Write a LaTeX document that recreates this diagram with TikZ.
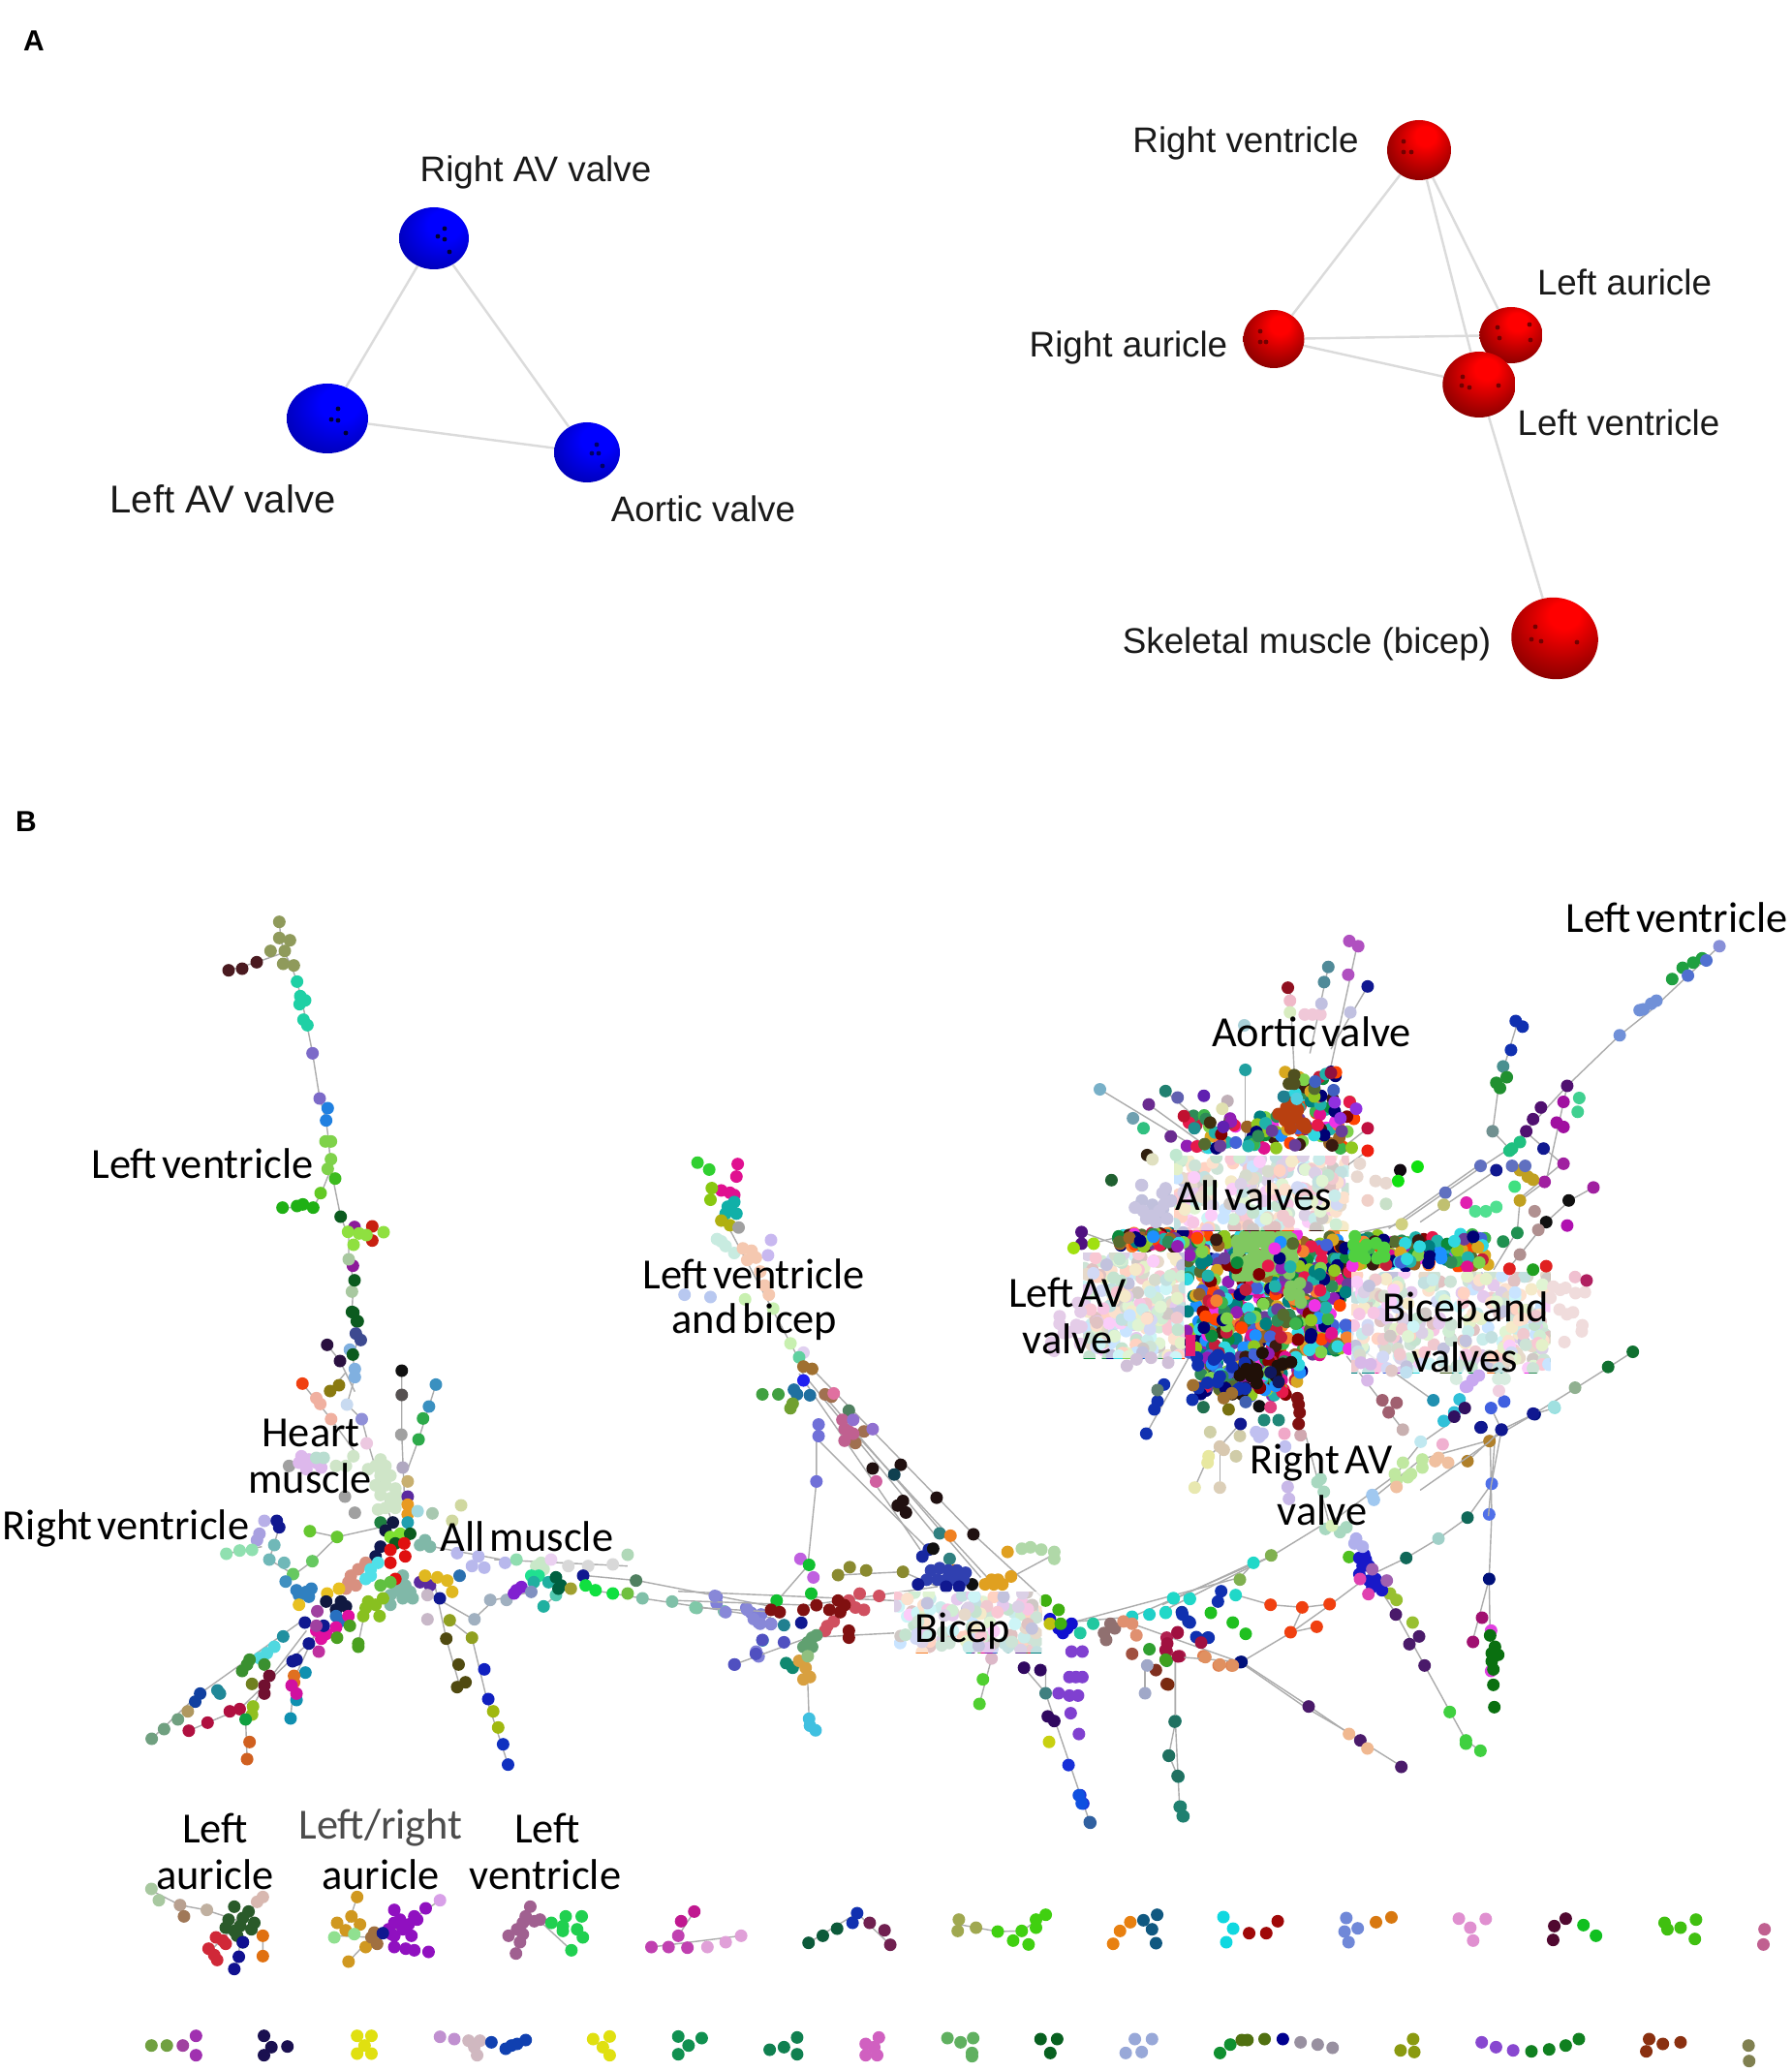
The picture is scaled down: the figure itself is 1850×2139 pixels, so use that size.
\documentclass[tikz,border=0pt]{standalone}
\usepackage{fontspec}
\setmainfont{Liberation Sans}
\newfontfamily\carlitofont[WordSpace=0.5]{Carlito}
\usetikzlibrary{shapes.geometric}
\pgfdeclareradialshading{redball}{\pgfpoint{6bp}{14bp}}{color(0bp)=(red);color(8bp)=(red);color(24bp)=(red!68!black);color(38bp)=(red!42!black);color(50bp)=(red!32!black)}
\pgfdeclareradialshading{blueball}{\pgfpoint{10bp}{14bp}}{color(0bp)=(blue);color(12bp)=(blue);color(32bp)=(blue!72!black);color(50bp)=(blue!50!black)}
\def\hexlist{E6194B,C41E3A,3CB44B,0B8A3A,D8A820,4363D8,F58231,911EB4,30D8E0,F032E6,90C820,008080,9A6324,800000,000075,3A1A10,E0118F,1E90FF,6A3D9A,2E8B57,FF4500,20B2AA,556B2F,7FD24A}
\newcounter{cidx}
\makeatletter
\@for\hx:=\hexlist\do{\definecolor{c\thecidx}{HTML}{\hx}\stepcounter{cidx}}
\makeatother
\definecolor{hubmagenta}{HTML}{E61C72}
\def\dr{6.5}
\newcommand\Dt[2]{\definecolor{tmpc}{HTML}{#1}\foreach \p/\q in {#2}{\fill[tmpc] (\p,\q) ellipse[x radius=\rx,y radius=\ry];}}
\newcommand\Ed[1]{\draw[edgeline] #1;}
\newcommand\Zm[5]{\begin{scope}[shift={(#1,#2)},xscale=1/#3,yscale=1/#4]\pgfmathsetmacro\rx{\dr*#3}\pgfmathsetmacro\ry{\dr*#4}#5\end{scope}}
\newcommand\Rn[5]{\foreach \i in {1,...,#1}{\pgfmathsetmacro\xx{#2+rnd*(#3-#2)}\pgfmathsetmacro\yy{#4+rnd*(#5-#4)}\pgfmathtruncatemacro\cc{int(rnd*23.99)}\fill[c\cc] (\xx,\yy) circle[radius=\dr];}}
\newcommand\RnC[6]{\definecolor{tmpc}{HTML}{#6}\foreach \i in {1,...,#1}{\pgfmathsetmacro\xx{#2+rnd*(#3-#2)}\pgfmathsetmacro\yy{#4+rnd*(#5-#4)}\fill[tmpc] (\xx,\yy) circle[radius=\dr];}}
\newcommand\Pnl[5]{\begin{scope}\clip (#2,#4) rectangle (#3,#5);\Rn{#1}{#2}{#3}{#4}{#5}\fill[white,opacity=.76] (#2,#4) rectangle (#3,#5);\end{scope}}
\newcommand\Spk[4]{\foreach \a/\b in {#4}{\fill[#3] (#1+\a,#2+\b) circle[radius=2.4];}}
\tikzset{
 edgeline/.style={draw=gray!65,line width=0.7pt},
 spherelink/.style={draw=black!14,line width=1.2pt},
 redsphere/.style={ellipse,inner sep=0pt,shading=redball},
 bluesphere/.style={ellipse,inner sep=0pt,shading=blueball},
 lbla/.style={font=\fontsize{18.4}{21}\selectfont,inner sep=0pt,text=black!90},
 lblb/.style={font=\carlitofont\fontsize{22.2}{25}\selectfont,inner sep=0pt,text=black},
 panel/.style={font=\bfseries\fontsize{15}{18}\selectfont,inner sep=0pt}
}
\begin{document}
\begin{tikzpicture}[x=0.5pt,y=-0.5pt]
\pgfmathsetseed{4711}
\useasboundingbox (0,0) rectangle (1850,2139);
\fill[white] (0,0) rectangle (1850,2139);
% ---------- panel A
\node[panel] (pa) at (35,42) {A};
\node[panel] (pb) at (27,848) {B};
\node[bluesphere,minimum width=36pt,minimum height=32pt] (rav) at (448,246) {};
\node[bluesphere,minimum width=42pt,minimum height=36pt] (lav) at (338,432) {};
\node[bluesphere,minimum width=34pt,minimum height=31pt] (aov) at (606,467) {};
\draw[spherelink] (rav) -- (lav); \draw[spherelink] (rav) -- (aov); \draw[spherelink] (lav) -- (aov);
\Spk{448}{246}{black!80!blue}{11/-10,4/-2,11/1,16/14}
\Spk{338}{432}{black!80!blue}{11/-10,4/1,11/2,19/15}
\Spk{606}{467}{black!60!blue}{10/-8,5/1,12/1,16/14}
\node[redsphere,minimum width=33pt,minimum height=31pt] (rv) at (1465,155) {};
\node[redsphere,minimum width=31.5pt,minimum height=30pt] (ra) at (1315,350) {};
\node[redsphere,minimum width=32.6pt,minimum height=29pt] (la) at (1560,346) {};
\node[redsphere,minimum width=45pt,minimum height=42pt,rotate=-15] (sk) at (1605,659) {};
\draw[spherelink] (rv) -- (ra); \draw[spherelink] (rv) -- (la); \draw[spherelink] (ra) -- (la); \draw[spherelink] (la) -- (1527,397);
\node[redsphere,minimum width=37.7pt,minimum height=34pt] (lv) at (1527,397) {};
\draw[spherelink] (rv) -- (lv); \draw[spherelink] (ra) -- (lv); \draw[spherelink] (lv) -- (sk);
\Spk{1465}{155}{red!45!black}{-16/-9,-16/2,-8/2}
\Spk{1315}{350}{red!45!black}{-14/-8,-14/3,-8/3}
\Spk{1560}{346}{red!45!black}{-14/-8,-12/3,19/-11,20/5}
\Spk{1527}{397}{red!45!black}{-17/-8,-18/1,-10/3,20/1}
\Spk{1605}{659}{red!45!black}{-20/-12,-24/1,-14/3,23/4}
\node[lbla] (t1) at (553,178) {Right AV valve};
\node[lbla,font=\fontsize{20}{23}\selectfont] (t2) at (230,515) {Left AV valve};
\node[lbla] (t3) at (726,525) {Aortic valve};
\node[lbla] (t4) at (1286,148) {Right ventricle};
\node[lbla] (t5) at (1677,291) {Left auricle};
\node[lbla] (t6) at (1165,359) {Right auricle};
\node[lbla] (t7) at (1671,436) {Left ventricle};
\node[lbla] (t8) at (1349,665) {Skeletal muscle (bicep)};
% ---------- top-left chain
\Zm{130}{930}{3}{3}{
\Ed{(475,65)--(480,120)--(490,160)--(510,195)--(530,250)--(545,310)--(560,380)--(578,472)--(600,610)--(620,680)--(628,745)--(635,830)--(665,978)--(690,1040)--(690,1110)--(705,1175)--(700,1275)--(715,1300)--(710,1345)}
\Ed{(320,215)--(405,190)--(490,160)}
\Ed{(485,950)--(580,950)--(605,905)--(635,830)}
\Dt{8F9A5B}{475/65,475/115,508/122,448/155,492/155,487/195,520/200}
\Dt{4A1A20}{318/215,360/210,405/190}
\Dt{1FD0A5}{530/250,540/295,555/308,538/320,550/368,562/385}
\Dt{7C6AC8}{578/472,600/612}
\Dt{2080E0}{625/642,620/680}
\Dt{7FD24A}{618/745,635/745,635/800,625/830}
\Dt{3DBB1F}{648/860}
\Dt{62C924}{603/905}
\Dt{1FB014}{485/950,530/945,548/940,580/950}
\Dt{0B5B1E}{665/978}
\Dt{8C1A9A}{708/1010,703/1130}
\Dt{C82010}{763/1008,763/1052}
\Dt{8FE040}{688/1025,722/1030,745/1035,798/1026,705/1065}
\Dt{A8C8A0}{690/1110,700/1210}
\Dt{0B5B1E}{708/1175,700/1273,718/1302}
}
% ---------- left hub
\Zm{0}{1350}{1.96}{3}{
\Ed{(715,15)--(725,100)--(714,145)--(718,215)--(702,300)--(732,345)--(745,420)--(790,650)}
\Ed{(612,235)--(670,345)--(720,450)}\Ed{(662,115)--(688,165)--(718,260)}\Ed{(668,258)--(700,200)}
\Ed{(813,195)--(813,393)--(820,650)}\Ed{(882,238)--(847,408)--(825,500)}
\Ed{(627,692)--(682,710)--(770,680)}\Ed{(565,680)--(545,780)--(593,825)}\Ed{(458,762)--(530,740)}
\Ed{(682,710)--(632,785)--(577,848)}
\Ed{(307,1335)--(400,1200)--(620,960)}\Ed{(382,1310)--(485,1243)--(650,1000)}\Ed{(500,1398)--(497,1275)--(535,1170)--(620,1000)}\Ed{(588,1272)--(595,1150)--(640,1000)}\Ed{(725,1040)--(740,930)}
\Ed{(910,968)--(955,1022)--(985,1212)--(1028,1415)}\Ed{(880,860)--(903,1025)--(930,1170)}\Ed{(860,880)--(958,965)--(1000,905)--(1075,880)}
\Ed{(1187,830)--(1290,845)--(1560,925)}\Ed{(1180,870)--(1300,900)--(1560,960)}\Ed{(1100,925)--(1125,890)}\Ed{(840,730)--(1050,790)}\Ed{(1000,780)--(1270,800)}
\Dt{0B5B1E}{715/15,722/42}
\Dt{3D4A90}{720/80,730/100}
\Dt{2A1040}{662/115,688/165}
\Dt{80B0E0}{708/130,718/190,718/215}
\Dt{0B5B1E}{714/145}
\Dt{C8DAF0}{702/300}
\Dt{F04010}{612/235}
\Dt{8A7A10}{668/258,686/240}
\Dt{F0B0A0}{640/280,648/298,670/345}
\Dt{101010}{813/195}
\Dt{555050}{813/270}
\Dt{3A90C0}{882/238,868/306}
\Dt{2DAA4A}{856/343,847/408}
\Dt{A0A0A0}{812/393,585/490,698/585,718/635}
\Dt{9090D8}{732/345}
\Dt{ECC8E0}{742/420}
\Dt{DDB8EC}{610/460,625/470,605/480,640/480,620/500,650/495}
\Dt{B9DDD0}{655/465,640/465}
\Dt{CFE5C8}{770/470,780/490,760/490,715/460,745/500,790/520,770/520,760/550,780/550,800/560,770/580,790/590,810/590,780/620,800/620,765/625,680/490,700/490}
\Dt{C8B070}{825/538}
\Dt{B0A8C0}{815/495}
\Dt{5A2AA0}{825/585}
\Dt{E89A20}{825/610,825/640}
\Dt{A0D8E0}{845/630}
\Dt{A8C8B0}{875/637}
\Dt{D0D8A0}{933/612,915/660}
\Dt{B8B0E8}{535/660}
\Dt{101890}{565/680,560/660}
\Dt{A8A0E0}{525/700,520/720}
\Dt{70B8B8}{555/735,545/780,575/790}
\Dt{90E0B0}{458/762,485/752,510/750}
\Dt{66C830}{627/692,682/710}
\Dt{66C860}{632/785,593/825}
\Dt{4090C0}{578/848}
\Dt{80B8A8}{815/830,800/860,820/860,830/880,810/880,790/890,815/900,835/900,825/885,790/920,850/735,860/720,870/740}
\Dt{1E8040}{770/665}\Dt{101840}{795/665}\Dt{20A0B0}{825/665}\Dt{101840}{780/690}
\Dt{7CE030}{790/710,810/700}
\Dt{0B5B1E}{830/700,800/730}
\Dt{101850}{770/740,760/770}
\Dt{E01010}{818/730,820/770,790/750,790/790,800/840}
\Dt{D89080}{740/790,725/810,710/830,705/850,720/860,700/870}
\Dt{50E0E8}{750/810,765/790,740/840,750/830}
\Dt{60C040}{770/860,790/850}
\Dt{5A2AA0}{850/850,870/860}
\Dt{E0B820}{860/830,885/835,905/845,915/880}
\Dt{101890}{890/900}
\Dt{2A70B0}{930/830}
\Dt{C8B8C8}{865/890,865/965}
\Dt{3080C0}{600/875,620/880,630/870,605/890,625/895}
\Dt{E8C020}{605/920,662/885,686/870}
\Dt{101840}{660/910,690/910,680/935,700/925}
\Dt{2870C0}{680/955,690/970}
\Dt{88C020}{740/930,760/920,735/955,768/955,745/910,775/900}
\Dt{E010A0}{705/955,680/990,660/1010,640/1000,650/1025}
\Dt{101890}{617/975,655/985,625/1040,600/1090,592/1095}
\Dt{A040A0}{642/940,640/985}
\Dt{4AA020}{725/1040,725/1050,708/985,682/1022}
\Dt{2090A0}{573/1018}
\Dt{50D8E0}{555/1050,540/1070,525/1085}
\Dt{C030A0}{645/1065}
\Dt{3A9030}{505/1090,500/1105,490/1125,535/1105}
\Dt{701030}{545/1140,535/1170,535/1195}
\Dt{708020}{510/1165}
\Dt{1090B0}{618/1130,600/1215,588/1272}
\Dt{E07020}{595/1140,595/1160}
\Dt{D010A0}{590/1170,600/1195}
\Dt{208898}{440/1185,445/1195}
\Dt{1040A0}{405/1195,395/1220}
\Dt{B09860}{380/1250}
\Dt{70A080}{360/1275,332/1305,307/1335}
\Dt{B01040}{382/1310,420/1285,465/1250,485/1243}
\Dt{90C020}{512/1235,510/1260}
\Dt{10A040}{497/1275}
\Dt{D06020}{505/1345,500/1398}
\Dt{90A020}{910/968,955/1022}
\Dt{504A10}{903/1025,928/1105,925/1175,942/1160}
\Dt{1020C0}{980/1120,988/1212}
\Dt{A0B810}{998/1250,1008/1300}
\Dt{1030C0}{1018/1352,1028/1415}
\Dt{A0B0C0}{960/965,992/905,1025/905}
\Dt{B8B8EC}{925/760,968/770,955/800,980/805,1022/790}
\Dt{90DDB0}{1045/780}
\Dt{C8E8C8}{1095/790,1085/800,1100/810}
\Dt{EAD0F0}{1115/780}
\Dt{D8D8D8}{1150/800,1190/800,1240/795}
\Dt{B0D8B8}{1270/765}
\Dt{20E090}{1075/830,1090/830}
\Dt{20B0A0}{1080/850,1110/850,1100/925}
\Dt{50C8B0}{1125/890}
\Dt{006040}{1125/835,1135/860,1130/870}
\Dt{8020D0}{1045/875,1040/885,1055/865}
\Dt{8090C0}{1075/880}
\Dt{A0A030}{1155/870}
\Dt{101890}{1180/830}
\Dt{10E040}{1185/860,1205/875,1240/885}
\Dt{70C040}{1270/885}
\Dt{508060}{1287/845}
\Dt{80C0A8}{1300/900,1360/910,1410/930,1465/940}
\Dt{8080D8}{1450/895,1450/915,1510/930,1520/945,1535/975,1560/980,1540/950,1487/1105,1530/1065,1535/1080}
\Dt{2090B0}{1543/1030}
}
% ---------- middle band
\Zm{700}{1150}{2.24}{2.09}{
\Ed{(280,550)--(600,915)}\Ed{(280,560)--(560,940)}\Ed{(310,550)--(683,907)--(850,1050)}\Ed{(340,610)--(700,1000)}\Ed{(400,680)--(720,1005)}\Ed{(320,670)--(320,793)--(300,975)--(230,1050)}\Ed{(320,700)--(590,950)}
\Ed{(120,250)--(280,530)}
\Ed{(0,1030)--(500,1050)}\Ed{(0,1050)--(300,1060)--(600,1020)}\Ed{(40,1065)--(230,1075)}\Ed{(370,995)--(520,988)--(600,1020)}\Ed{(300,1230)--(303,1305)}\Ed{(130,1188)--(300,1130)--(500,1120)}
\Ed{(860,1100)--(1050,1085)--(1370,955)}\Ed{(900,1100)--(1300,1000)--(1330,970)}\Ed{(1050,1100)--(1300,1183)--(1450,1280)--(1560,1340)}\Ed{(850,1190)--(850,1250)--(937,1488)--(952,1528)}\Ed{(1150,1170)--(1150,1310)--(1160,1500)}\Ed{(1080,1190)--(1080,1250)}\Ed{(697,1273)--(725,1175)}\Ed{(800,1195)--(860,1260)}\Ed{(770,1000)--(870,950)}
\Dt{30D030}{45/105,72/120}
\Dt{E01090}{138/108,135/135,100/165,120/170,130/175}
\Dt{88C810}{78/160,75/185}
\Dt{10B0A8}{130/190,115/200,135/215,110/215}
\Dt{B0B010}{100/230,120/240}
\Dt{A0A0A0}{140/245}
\Dt{C8EBE0}{90/270,110/285,130/300,100/275}
\Dt{F5C8B0}{150/290,170/295,180/310,160/315,190/340,200/370,210/390}
\Dt{C8B8F0}{215/272,208/305}
\Dt{B8C8F0}{75/395,15/390}
\Dt{C8F0B0}{155/400,220/420,260/495}
\Dt{E0D0F0}{290/515}
\Dt{60D0A0}{280/525}
\Dt{A07030}{290/545,310/550}
\Dt{2020F0}{290/575}
\Dt{2070A0}{268/595,305/607,275/605}
\Dt{40A040}{195/605,232/605}
\Dt{70A030}{265/625,260/635}
\Dt{A07050}{340/605,355/610,430/685,410/710}
\Dt{E070A0}{360/603}
\Dt{508060}{395/640}
\Dt{7070D8}{325/670,325/695,320/793}
\Dt{C06090}{380/660,385/680,395/685,385/705,405/690}
\Dt{9070D0}{405/660,450/680}
\Dt{201010}{450/765,515/757,598/828,683/907,520/835,508/845,527/860}
\Dt{104050}{500/778}
\Dt{D060A0}{458/793}
\Dt{308080}{605/905,628/960}
\Dt{F08020}{630/910,640/985}
\Dt{1828A0}{565/955,580/940}
\Dt{101010}{590/938,680/1015}
\Dt{3040B0}{585/985,605/980,625/985,645/985,665/990,575/1005,600/1005,620/1005,640/1005,660/1005}
\Dt{101890}{555/1015,620/1020,650/1020}
\Dt{E0A020}{710/1015,730/1015,750/1015,770/998,725/1005,740/1005,762/945}
\Dt{B0D8A8}{795/938,815/935,840/940,870/945,870/960}
\Dt{C060E0}{283/960,313/1000}
\Dt{10C030}{303/973,308/1035,228/1050}
\Dt{8A8A30}{370/995,397/978,435/985,520/988}
\Dt{8888D8}{85/1040,110/1075,160/1070,175/1090,190/1100,215/1100}
\Dt{80C8A8}{40/1065}
\Dt{D05060}{395/1050,420/1035,410/1065,430/1070,345/1105,360/1095,340/1115,465/1040}
\Dt{801010}{235/1075,215/1070,290/1070,320/1060,395/1130,395/1115,370/1050,385/1060,375/1075,350/1070}
\Dt{208090}{245/1103}
\Dt{101890}{285/1098}
\Dt{5050C0}{195/1135,180/1165,130/1188,245/1140}
\Dt{60A070}{300/1140,310/1130,290/1150,310/1150,320/1125}
\Dt{108870}{250/1185,265/1195}
\Dt{D8A040}{280/1180,295/1195,290/1220,305/1215}
\Dt{90C080}{300/1170}
\Dt{40C0E0}{303/1305,318/1330,305/1320}
\Dt{1010D0}{860/1090,880/1110,900/1110,910/1100,890/1120}
\Dt{C0C010}{860/1100}
\Dt{40B010}{880/1070,885/1100,850/1050}
\Dt{20C8A0}{930/1120,960/1100}
\Dt{907070}{985/1120,1000/1100,1010/1110,990/1135}
\Dt{8040D0}{910/1160,935/1160,920/1215,935/1215,905/1215,880/1250,905/1255,925/1255,908/1293,927/1338}
\Dt{300860}{800/1195,838/1200,855/1300,870/1310}
\Dt{408080}{850/1250}
\Dt{C8D010}{858/1355}
\Dt{1830D8}{903/1405,930/1470,937/1488}
\Dt{3060A0}{952/1528}
\Dt{50D030}{705/1220,697/1273}
\Dt{DCB8C8}{725/1175}
\Dt{208070}{1150/1310,1135/1385,1157/1430,1160/1495,1167/1515}
\Dt{20D0C8}{1050/1085,1090/1080,1128/1075,1145/1045,1183/1045}
\Dt{E09070}{1050/1100,1030/1095,1060/1125}
\Dt{A05040}{1050/1165}
\Dt{B02050}{1130/1130,1155/1120,1160/1170,1130/1160}
\Dt{30A030}{1090/1155,1130/1180}
\Dt{1030A0}{1165/1075,1180/1095,1210/1135,1225/1130}
\Dt{803020}{1105/1200,1130/1230}
\Dt{A0A8C8}{1080/1250,1085/1190}
\Dt{E08050}{1215/1170,1250/1190,1280/1190}
\Dt{101890}{1300/1183}
}
% ---------- right lower band
\Zm{1200}{1450}{3}{3}{
\Ed{(245,797)--(400,705)--(520,620)--(640,530)--(755,475)--(855,415)--(945,350)--(1020,245)--(1030,100)--(1150,30)--(1215,10)}
\Ed{(1015,110)--(1020,340)--(1012,540)--(1015,720)}\Ed{(1012,540)--(960,735)}
\Ed{(245,797)--(455,935)--(580,1020)--(740,1120)}
\Ed{(600,460)--(725,650)--(940,1040)--(985,1072)}
\Ed{(0,640)--(340,468)--(500,370)}\Ed{(0,620)--(280,490)}
\Ed{(230,590)--(335,620)--(435,628)--(520,618)}
\Ed{(30,780)--(245,797)}\Ed{(40,800)--(40,985)--(20,1085)--(47,1150)}
\Ed{(400,705)--(435,628)}\Ed{(400,705)--(478,688)}
\Ed{(500,380)--(720,220)--(800,120)--(900,50)}\Ed{(640,300)--(800,170)--(1015,110)}\Ed{(945,175)--(1015,110)}
\Ed{(440,80)--(520,380)}\Ed{(100,257)--(143,160)--(178,130)--(240,60)}\Ed{(178,257)--(178,130)}
\Dt{00107A}{1012/540,1153/30,988/70,1050/78,245/797}
\Dt{5070E8}{1020/245,1012/340}
\Dt{106858}{945/350,755/475}
\Dt{A0D0C8}{855/415}
\Dt{B0802A}{1013/113,945/175}
\Dt{90E0E0}{1215/10}
\Dt{A01070}{990/660,962/735}
\Dt{E040E0}{1018/700,1018/825}
\Dt{0A7010}{1015/715,1030/750,1040/775,1020/795,1025/820,1025/868,1028/937,1020/770}
\Dt{4A1A6A}{723/650,765/742,795/718,812/808,453/935,613/1040,740/1122}
\Dt{F0B890}{578/1020,635/1065}
\Dt{40D040}{890/952,940/1040,985/1072,940/1050}
\Dt{98C030}{705/585,725/605,775/675}
\Dt{50C020}{578/472}
\Dt{1818C8}{610/475,630/480,620/500,640/500,640/545,660/540,650/565,680/575,610/525,670/560,625/465}
\Dt{E040B0}{612/540,638/587}
\Dt{A060B0}{650/510,695/545}
\Dt{B0B0EC}{595/430,620/440,600/415}
\Dt{A8D8C0}{480/240,500/270,490/230,550/395,570/380,505/385}
\Dt{D8F0B8}{525/375}
\Dt{C0E8A0}{745/180,720/215,760/225,725/235,770/215,805/170,805/195}
\Dt{F0C0A0}{725/255,855/165,845/175,885/180}
\Dt{F0B0D0}{868/123}
\Dt{A0C8F0}{650/280,655/295}
\Dt{C0E8F0}{800/115}
\Dt{E8E8B0}{100/257}\Dt{DCCFB8}{178/257}
\Dt{E8E8A0}{143/160,140/180}
\Dt{D0D0A8}{148/85}
\Dt{D8C8B0}{178/130,190/140}
\Dt{D0CCA8}{228/160,240/97}
\Dt{C0C0F0}{290/85,310/90,300/100,380/130}
\Dt{F0A8C8}{378/90}
\Dt{C8B8E8}{388/255,392/292}
\Dt{D0A8B0}{428/95}
\Dt{20D8C8}{282/490,227/590,85/602,35/600,10/645}
\Dt{80B050}{337/467,240/542}
\Dt{1030B0}{182/578,172/610,62/650,85/675,105/720,143/722}
\Dt{20C020}{150/645,218/675,258/710}
\Dt{F04010}{335/620,433/628,518/618,397/705,478/688}
\Dt{A01040}{47/705,15/740,120/737,10/760,48/780}
\Dt{40A020}{10/790}
\Dt{E09060}{133/782,178/805,218/808}
\Dt{7A2A10}{18/867}
\Dt{207060}{38/982,20/1087,47/1150}
}
% ---------- edges of the right-hand fan and branches
\Zm{1000}{900}{1.845}{2.24}{
\Ed{(1430,172)--(1300,320)--(1240,378)--(1140,495)--(1030,640)--(980,680)--(820,815)--(740,835)}
\Ed{(1045,350)--(1030,410)--(1010,490)--(998,600)--(1030,640)}
\Ed{(1140,495)--(1100,715)--(1050,760)--(1045,830)--(1000,920)}
\Ed{(1190,730)--(1145,760)--(1100,810)--(1050,885)--(1030,915)}
\Ed{(1130,675)--(1050,755)}\Ed{(970,680)--(800,825)}\Ed{(1005,690)--(860,810)}\Ed{(1060,600)--(1130,675)}
\Ed{(1265,1110)--(1220,1145)--(1155,1195)--(1075,1255)--(1015,1290)--(990,1320)--(860,1430)}
\Ed{(1015,1290)--(995,1420)--(990,1490)}\Ed{(995,1240)--(1015,1290)}
\Ed{(250,503)--(450,650)}\Ed{(343,538)--(470,650)}\Ed{(527,458)--(527,640)}\Ed{(740,170)--(690,450)}\Ed{(760,265)--(690,410)}\Ed{(612,268)--(620,460)}\Ed{(685,220)--(650,420)}
\Ed{(375,507)--(500,640)}\Ed{(760,593)--(700,650)}\Ed{(760,645)--(720,680)}
\Ed{(215,833)--(300,870)}\Ed{(200,870)--(300,840)}
\Ed{(338,1300)--(430,1100)}\Ed{(827,1290)--(720,1120)}\Ed{(885,1222)--(720,1080)}
}
% ---------- random fills
\Rn{46}{1225}{1325}{1150}{1186}
\Rn{60}{1325}{1398}{1130}{1186}
\Rn{24}{1325}{1380}{1105}{1135}
\RnC{10}{1325}{1350}{1130}{1165}{B84010}
\Rn{470}{1225}{1393}{1272}{1400}
\RnC{70}{1275}{1335}{1272}{1318}{80C860}
\RnC{8}{1325}{1345}{1320}{1345}{80C860}
\Rn{10}{1270}{1340}{1280}{1318}
\Rn{110}{1238}{1345}{1396}{1442}
\RnC{14}{1262}{1340}{1400}{1440}{201008}
\RnC{14}{1232}{1290}{1395}{1440}{1030B0}
\Rn{80}{1153}{1223}{1272}{1287}
\Rn{120}{1395}{1540}{1274}{1308}
\RnC{18}{1395}{1430}{1276}{1300}{50D040}
\fill[hubmagenta] (1224,1378) rectangle (1234,1400);
% ---------- translucent panels behind the labels
\Pnl{220}{1212}{1392}{1193}{1270}
\Pnl{230}{1118}{1223}{1293}{1402}
\Pnl{300}{1395}{1600}{1313}{1417}
\Pnl{130}{923}{1075}{1643}{1706}
\RnC{12}{1085}{1118}{1345}{1400}{E4CCE8}
\RnC{12}{1600}{1640}{1320}{1400}{F0DCDC}
% ---------- remaining dots of the fan and branches (above the panels)
\Zm{1000}{900}{1.845}{2.24}{
\Dt{B050C0}{725/160,742/172,723/238}
\Dt{508A98}{685/220,677/255}
\Dt{101890}{760/265}
\Dt{901020}{608/268}
\Dt{F0B8C8}{612/298}
\Dt{D8ECC0}{612/325}
\Dt{F0C8D8}{655/330,640/330,670/330}
\Dt{C0C0E0}{727/325,672/305}
\Dt{A8D0D8}{525/355}
\Dt{20A0A0}{527/458}
\Dt{505020}{620/470,610/490,620/490}
\Dt{B84010}{605/545,605/565,620/570,590/560}
\Dt{208090}{600/520}
\Dt{50D0E0}{625/525}
\Dt{78B0C8}{250/503}
\Dt{70A0B0}{313/570}
\Dt{30C080}{333/593}
\Dt{6A2A90}{343/538,385/612}
\Dt{208070}{375/507}
\Dt{6060B0}{398/522}
\Dt{6020B0}{448/518,485/590}
\Dt{C0B0B8}{493/530}
\Dt{E0E0B0}{483/548}
\Dt{C01030}{410/565}
\Dt{208F8F}{430/593}
\Dt{403010}{460/580}
\Dt{9030E0}{738/548,697/533,708/570}
\Dt{C01040}{760/593}
\Dt{F02010}{760/645}
\Dt{901040}{690/465}
\Dt{4060C0}{660/485,695/505}
\Dt{206030}{272/713}
\Dt{302010}{340/655}
\Dt{E0E0C0}{350/665}
\Dt{C0E8D0}{395/655}
\Dt{C0C0DC}{330/725,375/735,320/775,345/790,370/780,385/760,355/805,330/760,350/770,375/800}
\Dt{501080}{215/833,215/860}
\Dt{A0E010}{200/870,238/860}
\Dt{100810}{822/690}
\Dt{10E010}{855/682,818/715}
\Dt{E8D8D0}{740/705,775/715,795/720,745/675}
\Dt{F0D0C8}{760/760}
\Dt{C8E0C8}{795/768}
\Dt{8890D8}{1430/172}
\Dt{1FA040}{1340/248,1360/222,1380/210,1397/200}
\Dt{5070D0}{1370/240,1405/205}
\Dt{7090D8}{1285/318,1300/305,1278/320,1310/298,1240/378}
\Dt{1030B0}{1042/345,1055/358,1033/412}
\Dt{4A9090}{1018/450}
\Dt{209030}{1005/488,1025/475,1012/500}
\Dt{709090}{998/600}
\Dt{501070}{1140/495,1090/545,1075/572,1062/600}
\Dt{A010A0}{1133/532,1120/580,1133/590}
\Dt{40D090}{1163/523,1160/555}
\Dt{20C080}{1050/625,1035/640,1030/645}
\Dt{101890}{1095/640,1005/690}
\Dt{A020A0}{1133/675,1097/717,1190/730}
\Dt{C0A020}{1050/690,1065/705,1075/712,1050/760}
\Dt{6070C0}{975/680,1035/680,1060/680,908/742}
\Dt{40E080}{1040/728}
\Dt{C0C070}{905/770}
\Dt{D0D080}{825/815}
\Dt{E020B0}{948/765}
\Dt{50E090}{965/785,985/785,1005/775}
\Dt{101010}{1143/760,1100/810}
\Dt{B09090}{1078/785,1085/828,1050/885}
\Dt{209050}{1045/835,1018/855}
\Dt{B010B0}{1140/818}
\Dt{E02020}{1100/912,1030/918}
\Dt{20A020}{1075/920}
\Dt{F0C0D0}{1155/937}
\Dt{B02060}{1177/945}
\Dt{A06070}{788/1222,815/1228,800/1250}
\Dt{C8B0B0}{827/1290}
\Dt{2090B0}{885/1222}
\Dt{C8A8F0}{960/1175,950/1190}
\Dt{30C0D8}{935/1220,925/1250,905/1270}
\Dt{301060}{945/1240,925/1260}
\Dt{4060E0}{995/1240,1020/1225}
\Dt{101890}{975/1285,1015/1290,1075/1253}
\Dt{A0E0E0}{1115/1237}
\Dt{90B090}{1155/1193}
\Dt{107030}{1218/1145,1265/1110}
\Dt{F0D0E0}{1010/1200}
}
\Zm{1130}{1130}{3}{3}{
\Dt{201008}{470/850,520/800,450/870,500/850}
\Dt{101860}{545/860,570/890}
\Dt{1030B0}{320/838,215/898,195/950,185/975,160/1050,303/945}
\Dt{608070}{195/915}
\Dt{207050}{337/968}
\Dt{A07030}{305/900,400/940,425/925}
\Dt{787010}{415/975}
\Dt{4060B0}{468/952}
\Dt{101010}{510/965}
\Dt{E04080}{545/968}
\Dt{208878}{570/1008,525/1008}
\Dt{101890}{452/1020}
\Dt{801010}{628/940,632/960,635/985,632/1020}
\Dt{C8C4E0}{145/280,220/290,210/305,125/350,150/360,175/375,200/360,215/340,235/330,160/385,190/395,225/385}
\Dt{D0C0D8}{100/840,130/820,175/815,228/830}
\Dt{D8B8E8}{845/885,825/830,855/835}
\Dt{E0C8C8}{920/855}
\Dt{C0E0F0}{965/860}
\Dt{C8A8F0}{1150/905,1170/885,1190/870}
\Dt{D8ECE0}{1120/880,1250/880,1270/880}
}
% ---------- bottom clusters
\Zm{0}{1850}{1.695}{3}{
\Ed{(265,305)--(315,350)--(360,365)--(420,400)--(460,325)}\Ed{(420,400)--(460,445)--(460,510)}\Ed{(420,440)--(418,510)--(410,548)}\Ed{(420,400)--(375,480)}\Ed{(318,350)--(322,385)}
\Ed{(610,525)--(650,450)--(700,420)--(770,335)}\Ed{(625,325)--(610,405)}\Ed{(590,445)--(650,450)}
\Ed{(903,500)--(930,355)}\Ed{(945,400)--(1000,490)}
\Ed{(1140,480)--(1297,445)}\Ed{(1187,445)--(1215,370)}\Ed{(1415,467)--(1500,375)--(1558,473)}
\Ed{(625,755)--(650,810)}\Ed{(650,755)--(625,810)}\Ed{(1038,765)--(1067,815)}
\Dt{A8C8A0}{265/300,278/335}
\Dt{B8A090}{315/350}\Dt{A07858}{322/385}\Dt{C0B0A0}{362/365}
\Dt{D8B8B0}{460/325,450/340}
\Dt{2A5A2A}{410/355,435/370,400/395,425/390,445/405,395/420,420/415,440/425,415/445,425/465,410/430}
\Dt{D02838}{378/450,390/460,365/485,375/505,380/520,395/470}
\Dt{E07010}{460/445,460/508}
\Dt{101090}{425/465,418/510,410/548}
\Dt{D09820}{625/325,615/385,590/405,630/410,605/428,640/480,610/525}
\Dt{90E090}{585/450,620/440}
\Dt{9010C0}{690/365,745/360,725/385,700/395,730/395,690/405,715/410,680/425,705/425,690/445,720/445,690/480,710/485,725/490,750/495,685/440}
\Dt{D8A0E8}{770/335}
\Dt{A07040}{655/435,660/470,650/450}
\Dt{101890}{670/437}
\Dt{A06090}{928/355,920/385,915/405,935/400,945/395,905/425,890/445,910/465,903/500,915/440}
\Dt{20D050}{990/385,1018/385,965/405,985/430,1010/425,1020/450,985/415,1000/490}
\Dt{C01890}{1215/370,1192/400}
\Dt{C040B0}{1187/445,1140/480,1170/480,1203/482}
\Dt{E0A0D8}{1238/480,1270/465,1297/445}
\Dt{0C5A3A}{1415/467,1440/445,1465/423}
\Dt{1030B0}{1500/375,1492/405}
\Dt{702050}{1522/405,1548/428,1558/473}
\Dt{70A040}{265/785,292/785}
\Dt{A040A0}{320/785}
\Dt{A030B0}{343/755,343/815}
\Dt{1A1050}{462/755,475/790,462/815,503/788}
\Dt{E0E010}{625/755,650/755,638/785,625/810,650/810}
\Dt{C090D0}{770/758,795/765}
\Dt{D0B8C0}{820/770,840/770,830/790,835/815}
\Dt{1040B0}{860/775,885/795,905/780,920/768,895/785}
\Dt{E0E010}{1038/765,1067/757,1055/790,1067/815}
\Dt{109050}{1187/757,1228/762,1205/785,1187/812}
\Dt{108050}{1347/798,1372/790,1395/760,1395/812}
\Dt{D060C0}{1538/760,1515/780,1530/790,1515/815,1535/815}
}
\Zm{925}{1850}{1.695}{3}{
\Ed{(110,410)--(178,432)--(220,430)--(262,380)}
\Dt{1050E0}{320/10,325/35}
\Dt{3060A0}{340/95}
\Dt{208070}{498/45,503/75}
\Dt{A0A850}{110/395,108/430,140/420}
\Dt{40D010}{178/432,205/460,232/472,220/430,245/395,245/420,262/380}
\Dt{E88010}{380/470,392/430,410/403}
\Dt{105880}{433/397,457/380,448/425,455/468}
\Dt{10D8E0}{573/387,590/423,578/465}
\Dt{A00808}{618/437,648/437,668/400}
\Dt{7088D8}{788/390,785/432,808/422,792/465}
\Dt{D87810}{840/403,867/388}
\Dt{E090D0}{985/392,1032/393,1005/420,1010/460}
\Dt{500830}{1172/392,1152/415,1150/458}
\Dt{10C020}{1203/412,1225/445}
\Dt{40C010}{1345/405,1350/425,1373/420,1400/395,1398/455}
\Dt{C06090}{1520/425,1518/472}
\Dt{60B060}{90/762,135/762,113/775,133/808,133/818}
\Dt{086020}{253/765,282/765,270/808}
\Dt{98A8D8}{418/765,448/765,430/805,402/808}
\Dt{109030}{567/808,585/782}
\Dt{507010}{605/768,615/768,645/765}
\Dt{000090}{677/765}
\Dt{9890A0}{708/775,738/782,764/792}
\Dt{8A9A10}{905/765,883/800,907/805}
\Dt{8848D0}{1025/775,1050/790,1080/800}
\Dt{108020}{1112/803,1143/797,1172/785,1195/765}
\Dt{8A3010}{1318/765,1342/780,1373/775,1313/803}
\Dt{808050}{1492/785,1493/833}
}
% ---------- labels of panel B
\node[lblb] (b1) at (1731,947) {Left ventricle};
\node[lblb] (b2) at (1354,1065) {Aortic valve};
\node[lblb] (b3) at (1294,1234) {All valves};
\node[lblb] (b4) at (1102,1334) {Left AV};
\node[lblb] (b5) at (1102,1382) {valve};
\node[lblb] (b6) at (1513,1353) {Bicep and};
\node[lblb] (b7) at (1512,1401) {valves};
\node[lblb] (b8) at (1364,1510) {Right AV};
\node[lblb] (b9) at (1365,1559) {valve};
\node[lblb] (b10) at (209,1201) {Left ventricle};
\node[lblb] (b11) at (778,1315) {Left ventricle};
\node[lblb] (b12) at (779,1365) {and bicep};
\node[lblb] (b13) at (321,1479) {Heart};
\node[lblb] (b14) at (320,1526) {muscle};
\node[lblb] (b15) at (130,1578) {Right ventricle};
\node[lblb] (b16) at (544,1586) {All muscle};
\node[lblb] (b17) at (994,1684) {Bicep};
\node[lblb] (b18) at (222,1887) {Left};
\node[lblb] (b19) at (222,1935) {auricle};
\node[lblb,text=black!70] (b20) at (393,1887) {Left/right};
\node[lblb] (b21) at (393,1935) {auricle};
\node[lblb] (b22) at (565,1887) {Left};
\node[lblb] (b23) at (563,1935) {ventricle};
\end{tikzpicture}
\end{document}
